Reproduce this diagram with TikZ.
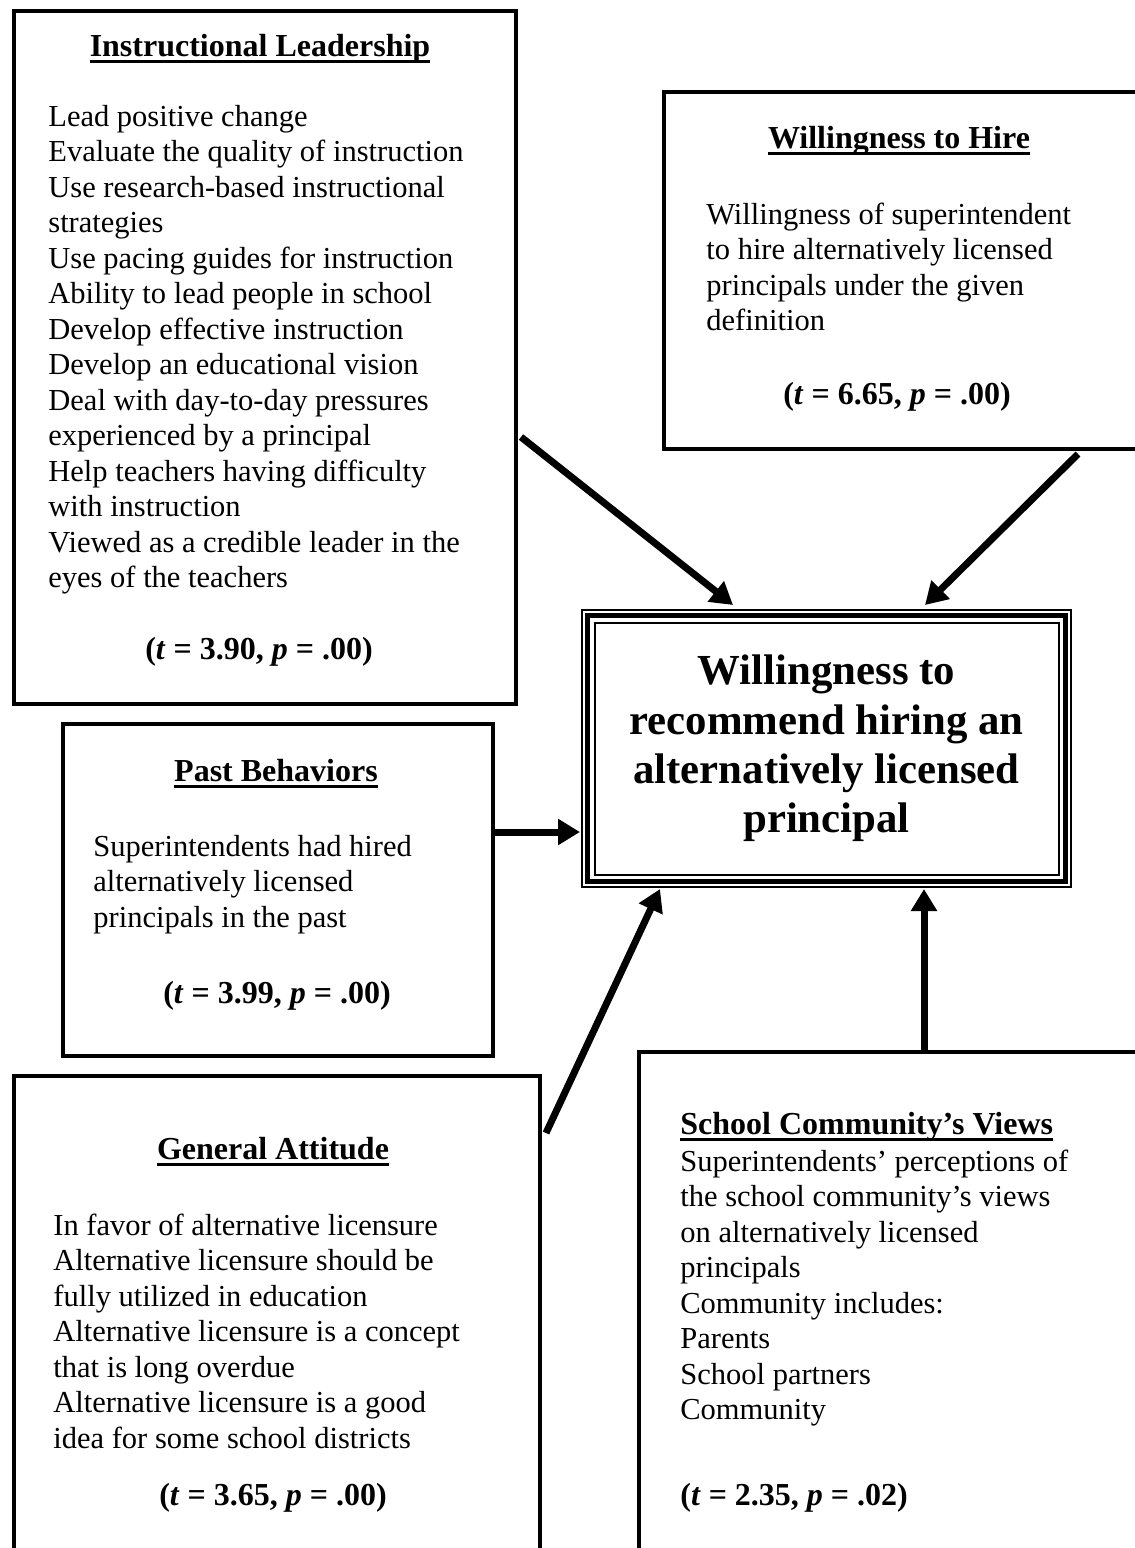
\documentclass[tikz,border=0pt]{standalone}
\usepackage{fontspec}
\setmainfont{Liberation Serif}
\usetikzlibrary{arrows.meta}

% one unit = one pixel of the final page (0.5pt), y grows downwards
\newcommand\bodyfont{\fontsize{15.25pt}{17.75pt}\selectfont}
\newcommand\headfont{\fontsize{16pt}{18.5pt}\selectfont}
\newcommand\centerfont{\fontsize{21.4pt}{24.65pt}\selectfont\bfseries}
% bold heading with a heavy underline
\newsavebox\hdbox
\newcommand\hd[1]{{\bfseries\sbox\hdbox{#1}%
  \rlap{\rule[-3.6pt]{\wd\hdbox}{1.5pt}}\usebox\hdbox}}
\newcommand\stat[2]{{\bfseries(\textit{t} = #1, \textit{p} = #2)}}

\tikzset{
  frame/.style={draw, line width=2pt, inner sep=0pt, anchor=north west},
  link/.style={line width=3.5pt, -{Triangle[length=11pt,width=12.5pt]}},
  heading/.style={anchor=base, inner sep=0pt, font=\headfont},
  lefthead/.style={anchor=base west, inner sep=0pt, font=\headfont},
  body/.style={anchor=base west, inner sep=0pt},
}

\begin{document}
\begin{tikzpicture}[x=0.5pt, y=-0.5pt]
\useasboundingbox[fill=white] (0,0) rectangle (1135,1548);

% ---- frames -------------------------------------------------------------
\node[frame, minimum width=251pt, minimum height=346.5pt] (il) at (12,9) {};
\node[frame, minimum width=239pt, minimum height=178.5pt] (wh) at (662,90) {};
\node[frame, minimum width=215pt, minimum height=166pt]   (pb) at (61,722) {};
\node[frame, minimum width=263pt, minimum height=250pt]   (ga) at (12,1074) {};
\node[frame, minimum width=260pt, minimum height=250pt]   (sc) at (637,1050) {};

% ---- central outcome box with a triple border ---------------------------
\node[draw, line width=1pt, inner sep=0pt, anchor=north west,
      minimum width=244.5pt, minimum height=138.5pt, align=center,
      font=\centerfont] (ctr) at (581,609)
  {Willingness to\\recommend hiring an\\alternatively licensed\\principal};
\draw[line width=2.5pt] ([shift={(6.5,6.5)}]ctr.north west)
  rectangle ([shift={(-6.5,-6.5)}]ctr.south east);
\draw[line width=1pt] ([shift={(13.5,13.5)}]ctr.north west)
  rectangle ([shift={(-13.5,-13.5)}]ctr.south east);

% ---- Instructional Leadership -------------------------------------------
\node[heading] (ilh) at (260,56) {\hd{Instructional Leadership}};
\node[body] (ilb) at (48,126) {\parbox[t]{260pt}{\bodyfont
  Lead positive change\\
  Evaluate the quality of instruction\\
  Use research-based instructional\\
  strategies\\
  Use pacing guides for instruction\\
  Ability to lead people in school\\
  Develop effective instruction\\
  Develop an educational vision\\
  Deal with day-to-day pressures\\
  experienced by a principal\\
  Help teachers having difficulty\\
  with instruction\\
  Viewed as a credible leader in the\\
  eyes of the teachers}};
\node[heading] (ils) at (259,659) {\stat{3.90}{.00}};

% ---- Willingness to Hire ------------------------------------------------
\node[heading] (whh) at (899,148) {\hd{Willingness to Hire}};
\node[body] (whb) at (706,224) {\parbox[t]{230pt}{\bodyfont
  Willingness of superintendent\\
  to hire alternatively licensed\\
  principals under the given\\
  definition}};
\node[heading] (whs) at (897,404) {\stat{6.65}{.00}};

% ---- Past Behaviors -----------------------------------------------------
\node[heading] (pbh) at (276,781) {\hd{Past Behaviors}};
\node[body] (pbb) at (93,856) {\parbox[t]{200pt}{\bodyfont
  Superintendents had hired\\
  alternatively licensed\\
  principals in the past}};
\node[heading] (pbs) at (277,1003) {\stat{3.99}{.00}};

% ---- General Attitude ---------------------------------------------------
\node[heading] (gah) at (273,1159) {\hd{General Attitude}};
\node[body] (gab) at (53,1235) {\parbox[t]{260pt}{\bodyfont
  In favor of alternative licensure\\
  Alternative licensure should be\\
  fully utilized in education\\
  Alternative licensure is a concept\\
  that is long overdue\\
  Alternative licensure is a good\\
  idea for some school districts}};
\node[heading] (gas) at (273,1505) {\stat{3.65}{.00}};

% ---- School Community's Views -------------------------------------------
\node[lefthead] (sch) at (680,1134) {\hd{School Community’s Views}};
\node[body] (scb) at (680,1171) {\parbox[t]{230pt}{\bodyfont
  Superintendents’ perceptions of\\
  the school community’s views\\
  on alternatively licensed\\
  principals\\
  Community includes:\\
  Parents\\
  School partners\\
  Community}};
\node[lefthead] (scs) at (680,1505) {\stat{2.35}{.02}};

% ---- influences on the outcome ------------------------------------------
\draw[link] ([shift={(3,428)}]il.north east) -- ([shift={(152,-4)}]ctr.north west);
\draw[link] ([shift={(416,3)}]wh.south west) -- ([shift={(344,-4)}]ctr.north west);
\draw[link] ([shift={(0,110)}]pb.north east) -- ([shift={(-1,223)}]ctr.north west);
\draw[link] ([shift={(4,59)}]ga.north east)  -- ([shift={(79,1)}]ctr.south west);
\draw[link] ([shift={(287,0)}]sc.north west) -- ([shift={(343,1)}]ctr.south west);
\end{tikzpicture}
\end{document}
